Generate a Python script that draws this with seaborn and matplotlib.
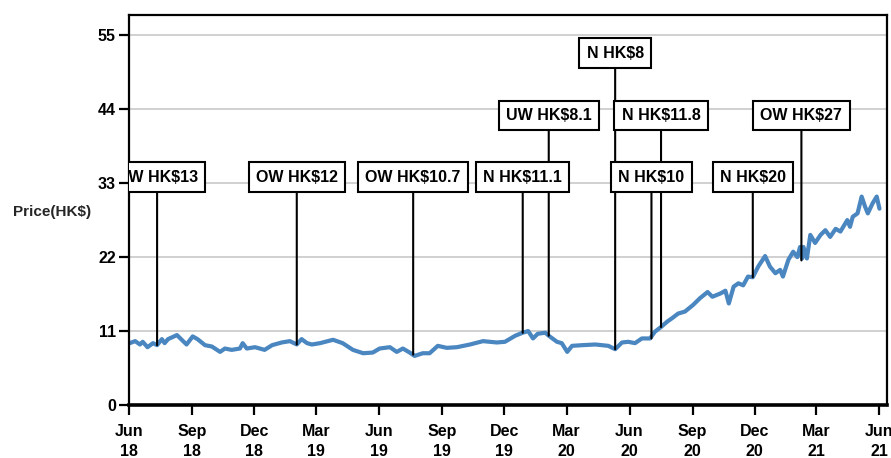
import pandas as pd
import matplotlib
matplotlib.use("Agg")
import matplotlib.pyplot as plt
import matplotlib.dates as mdates
import seaborn as sns

# price history (HK$)
dates = [
    "2018-06-02", "2018-06-10", "2018-06-17", "2018-06-21", "2018-06-28", "2018-07-06",
    "2018-07-12", "2018-07-19", "2018-07-23", "2018-07-28", "2018-08-10", "2018-08-17",
    "2018-08-24", "2018-09-02", "2018-09-09", "2018-09-20", "2018-09-30", "2018-10-12",
    "2018-10-19", "2018-10-29", "2018-11-10", "2018-11-14", "2018-11-20", "2018-12-02",
    "2018-12-09", "2018-12-16", "2018-12-27", "2019-01-10", "2019-01-22", "2019-02-01",
    "2019-02-08", "2019-02-16", "2019-02-23", "2019-03-07", "2019-03-26", "2019-04-09",
    "2019-04-24", "2019-05-09", "2019-05-23", "2019-06-02", "2019-06-17", "2019-06-27",
    "2019-07-06", "2019-07-16", "2019-07-23", "2019-08-04", "2019-08-14", "2019-08-26",
    "2019-09-08", "2019-09-23", "2019-10-12", "2019-10-31", "2019-11-20", "2019-12-02",
    "2019-12-17", "2019-12-28", "2020-01-05", "2020-01-12", "2020-01-19", "2020-01-30",
    "2020-02-04", "2020-02-16", "2020-02-23", "2020-03-02", "2020-03-09", "2020-03-24",
    "2020-04-12", "2020-05-01", "2020-05-11", "2020-05-21", "2020-05-30", "2020-06-09",
    "2020-06-19", "2020-07-01", "2020-07-08", "2020-07-17", "2020-07-26", "2020-08-02",
    "2020-08-11", "2020-08-21", "2020-09-02", "2020-09-12", "2020-09-23", "2020-09-30",
    "2020-10-12", "2020-10-19", "2020-10-24", "2020-10-31", "2020-11-07", "2020-11-14",
    "2020-11-21", "2020-11-28", "2020-12-06", "2020-12-16", "2020-12-23", "2020-12-31",
    "2021-01-07", "2021-01-11", "2021-01-19", "2021-01-26", "2021-02-01", "2021-02-05",
    "2021-02-08", "2021-02-10", "2021-02-15", "2021-02-20", "2021-02-27", "2021-03-07",
    "2021-03-14", "2021-03-21", "2021-03-29", "2021-04-05", "2021-04-15", "2021-04-19",
    "2021-04-23", "2021-04-30", "2021-05-06", "2021-05-11", "2021-05-15", "2021-05-22",
    "2021-05-28", "2021-06-01",
]
prices = [
    9.2, 9.5, 9.0, 9.4, 8.6, 9.2,
    8.9, 9.8, 9.2, 9.8, 10.4, 9.7,
    9.0, 10.2, 9.8, 8.9, 8.7, 7.9,
    8.4, 8.2, 8.4, 9.2, 8.4, 8.6,
    8.4, 8.2, 8.9, 9.3, 9.5, 9.0,
    9.8, 9.2, 9.0, 9.2, 9.7, 9.2,
    8.2, 7.7, 7.8, 8.4, 8.6, 7.9,
    8.4, 7.8, 7.3, 7.7, 7.7, 8.8,
    8.5, 8.6, 9.0, 9.5, 9.3, 9.4,
    10.3, 10.75, 11.0, 9.9, 10.6, 10.75,
    10.3, 9.4, 9.2, 7.9, 8.8, 8.9,
    9.0, 8.8, 8.3, 9.3, 9.4, 9.2,
    9.9, 9.9, 10.9, 11.6, 12.4, 12.9,
    13.6, 13.9, 14.9, 15.9, 16.8, 16.1,
    16.6, 17.0, 15.1, 17.6, 18.1, 17.8,
    19.1, 19.0, 20.6, 22.15, 20.6, 19.6,
    20.1, 19.1, 21.6, 22.8, 22.0, 23.5,
    21.8, 23.5, 21.8, 25.3, 24.1, 25.3,
    26.0, 25.0, 26.2, 25.8, 27.5, 26.5,
    28.0, 28.5, 31.0, 29.5, 28.5, 30.0,
    31.0, 29.2,
]

# rating calls
ann_labels = ["N HK$8", "UW HK$8.1", "N HK$11.8", "OW HK$27",
              "OW HK$13", "OW HK$12", "OW HK$10.7", "N HK$11.1", "N HK$10", "N HK$20"]
ann_dates = ["2020-05-11", "2020-02-04", "2020-07-17", "2021-02-07",
             "2018-07-12", "2019-02-01", "2019-07-21", "2019-12-28", "2020-07-03", "2020-11-28"]
ann_prices = [8.3, 10.3, 11.6, 21.5, 8.9, 9.0, 7.5, 10.75, 9.9, 19.0]

y_ticks = [0, 11, 22, 33, 44, 55]

df = pd.DataFrame({"date": pd.to_datetime(dates), "price": prices})

sns.set_theme(style="white")
plt.rcParams["font.family"] = ["Liberation Sans", "DejaVu Sans"]
plt.rcParams["font.weight"] = "bold"

fig, ax = plt.subplots(figsize=(8.91, 4.58), dpi=100)
fig.subplots_adjust(left=0.1448, right=0.9955, bottom=0.1157, top=0.9672)

sns.lineplot(data=df, x="date", y="price", color="#4a86c0", lw=3.0, ax=ax)

# box rows (price level of the label boxes)
rows = [52.35, 43.1, 43.1, 43.1, 33.9, 33.9, 33.9, 33.9, 33.9, 33.9]
for lab, d, p, yb in zip(ann_labels, ann_dates, ann_prices, rows):
    d = pd.Timestamp(d)
    ax.annotate(lab, xy=(d, p), xytext=(d, yb), ha="center", va="center",
                fontsize=11.5, fontweight="bold", color="black",
                clip_on=True,
                bbox=dict(boxstyle="square,pad=0.45", fc="white", ec="black", lw=1.5),
                arrowprops=dict(arrowstyle="-", color="black", lw=1.5,
                                shrinkA=0, shrinkB=0))

ax.set_xlim(pd.Timestamp("2018-06-01"), pd.Timestamp("2021-06-12"))
ax.set_ylim(0, 58)
ax.set_yticks(y_ticks)
ax.xaxis.set_major_locator(mdates.MonthLocator(bymonth=[3, 6, 9, 12]))
ax.xaxis.set_major_formatter(mdates.DateFormatter("%b\n%y"))

ax.yaxis.grid(True, color="#c8c8c8", lw=1.2)
ax.xaxis.grid(False)
ax.set_axisbelow(True)

for side in ["top", "left", "right"]:
    ax.spines[side].set_color("black")
    ax.spines[side].set_linewidth(1.6)
ax.spines["bottom"].set_color("black")
ax.spines["bottom"].set_linewidth(2.6)

ax.tick_params(axis="both", colors="black", labelsize=11.5, width=1.6,
               bottom=True, left=True, direction="out")
ax.tick_params(axis="x", length=7.5, pad=6)
ax.tick_params(axis="y", length=7.5, pad=2)

ax.set_xlabel("")
ax.set_ylabel("Price(HK$)", rotation=0, fontsize=11, fontweight="bold",
              ha="center", va="center")
ax.yaxis.set_label_coords(-0.102, 0.495)

fig.canvas.draw()
for t in ax.get_xticklabels():
    t.set_linespacing(1.45)
    t.set_fontweight("bold")
for t in ax.get_yticklabels():
    t.set_fontweight("bold")

fig.savefig("out.png", dpi=100)
